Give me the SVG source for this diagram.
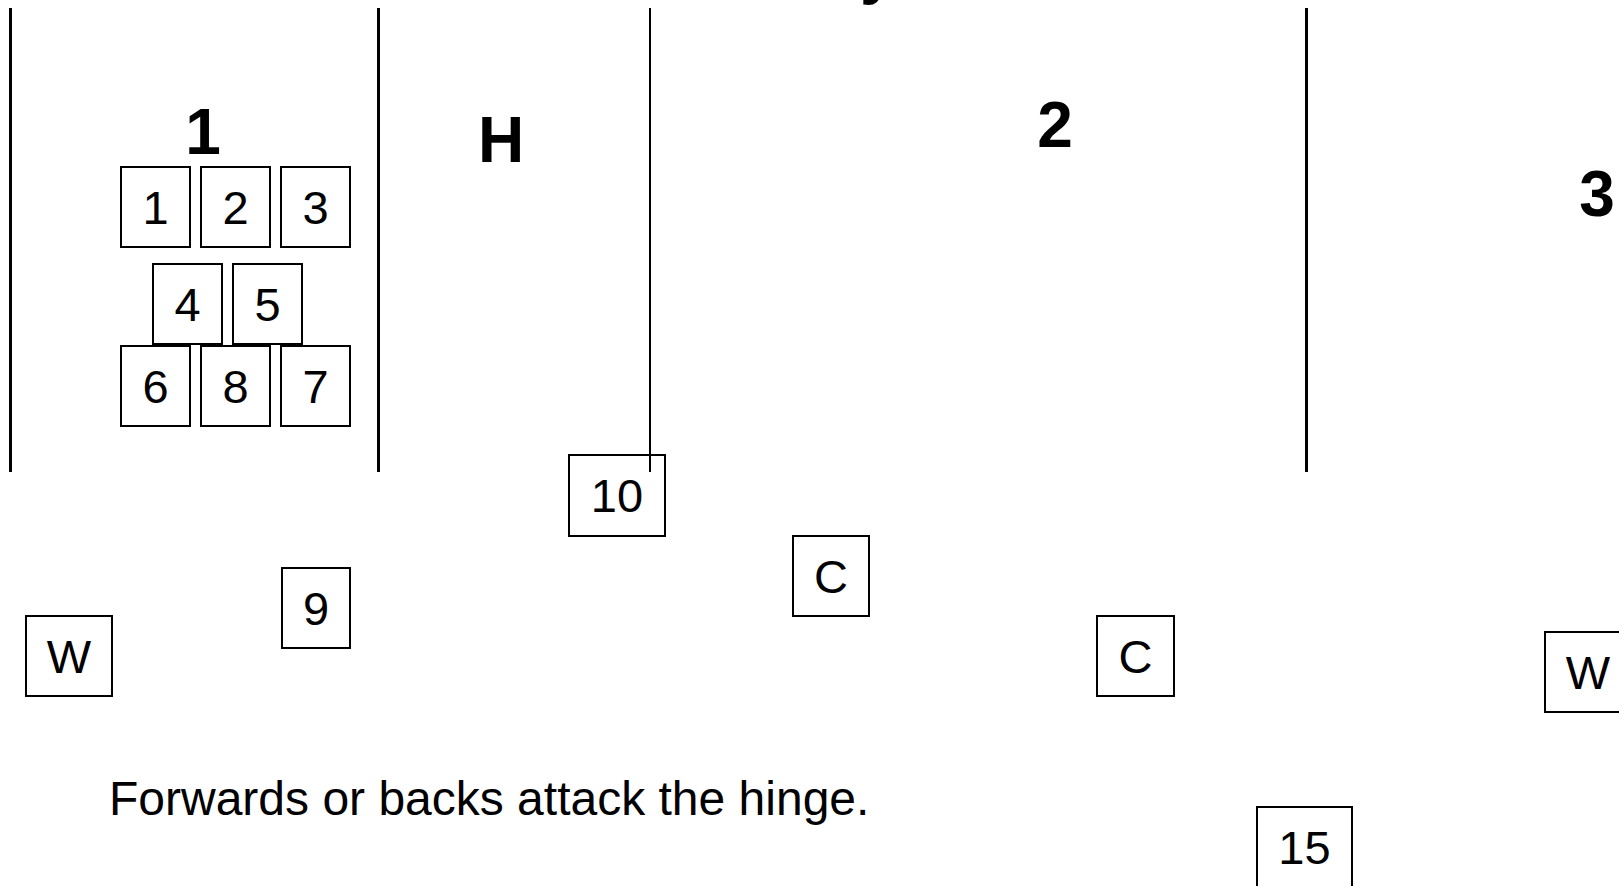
<svg xmlns="http://www.w3.org/2000/svg" width="1619" height="886" viewBox="0 0 1619 886">
<style>
  .box { fill: #ffffff; stroke: #000000; stroke-width: 2; }
  .num { font-family: "Liberation Sans", Arial, sans-serif; font-size: 47px; fill: #000000; text-anchor: middle; }
  .zone { font-family: "Liberation Sans", Arial, sans-serif; font-size: 64px; font-weight: bold; fill: #000000; text-anchor: middle; }
  .note { font-family: "Liberation Sans", Arial, sans-serif; font-size: 48px; fill: #000000; }
  .line { stroke: #000000; stroke-width: 3; }
  .thin { stroke: #000000; stroke-width: 2; }
</style>
<rect x="0" y="0" width="1619" height="886" fill="#ffffff"/>
<text class="zone" x="860" y="-8" style="text-anchor:start">y</text>
<g id="zone-labels">
  <text class="zone" x="203" y="154">1</text>
  <text class="zone" x="501" y="162">H</text>
  <text class="zone" x="1055" y="147">2</text>
  <text class="zone" x="1597" y="216">3</text>
</g>
<g id="node-1"><rect class="box" x="121" y="167" width="69" height="80"/><text class="num" x="155.5" y="224">1</text></g>
<g id="node-2"><rect class="box" x="201" y="167" width="69" height="80"/><text class="num" x="235.5" y="224">2</text></g>
<g id="node-3"><rect class="box" x="281" y="167" width="69" height="80"/><text class="num" x="315.5" y="224">3</text></g>
<g id="node-4"><rect class="box" x="153" y="264" width="69" height="80"/><text class="num" x="187.5" y="321">4</text></g>
<g id="node-5"><rect class="box" x="233" y="264" width="69" height="80"/><text class="num" x="267.5" y="321">5</text></g>
<g id="node-6"><rect class="box" x="121" y="346" width="69" height="80"/><text class="num" x="155.5" y="403">6</text></g>
<g id="node-8"><rect class="box" x="201" y="346" width="69" height="80"/><text class="num" x="235.5" y="403">8</text></g>
<g id="node-7"><rect class="box" x="281" y="346" width="69" height="80"/><text class="num" x="315.5" y="403">7</text></g>
<g id="node-10"><rect class="box" x="569" y="455" width="96" height="81"/><text class="num" x="617" y="512">10</text></g>
<g id="node-c1"><rect class="box" x="793" y="536" width="76" height="80"/><text class="num" x="831" y="593">C</text></g>
<g id="node-9"><rect class="box" x="282" y="568" width="68" height="80"/><text class="num" x="316" y="625">9</text></g>
<g id="node-w1"><rect class="box" x="26" y="616" width="86" height="80"/><text class="num" x="69" y="673">W</text></g>
<g id="node-c2"><rect class="box" x="1097" y="616" width="77" height="80"/><text class="num" x="1135.5" y="673">C</text></g>
<g id="node-w2"><rect class="box" x="1545" y="632" width="86" height="80"/><text class="num" x="1588" y="689">W</text></g>
<g id="node-15"><rect class="box" x="1257" y="807" width="95" height="80"/><text class="num" x="1304.5" y="864">15</text></g>
<g id="connectors">
  <line class="line" x1="10.5" y1="8" x2="10.5" y2="472"/>
  <line class="line" x1="378.5" y1="8" x2="378.5" y2="472"/>
  <line class="thin" x1="650" y1="8" x2="650" y2="472"/>
  <line class="line" x1="1306.5" y1="8" x2="1306.5" y2="472"/>
</g>
<text class="note" x="109" y="815">Forwards or backs attack the hinge.</text>
</svg>
